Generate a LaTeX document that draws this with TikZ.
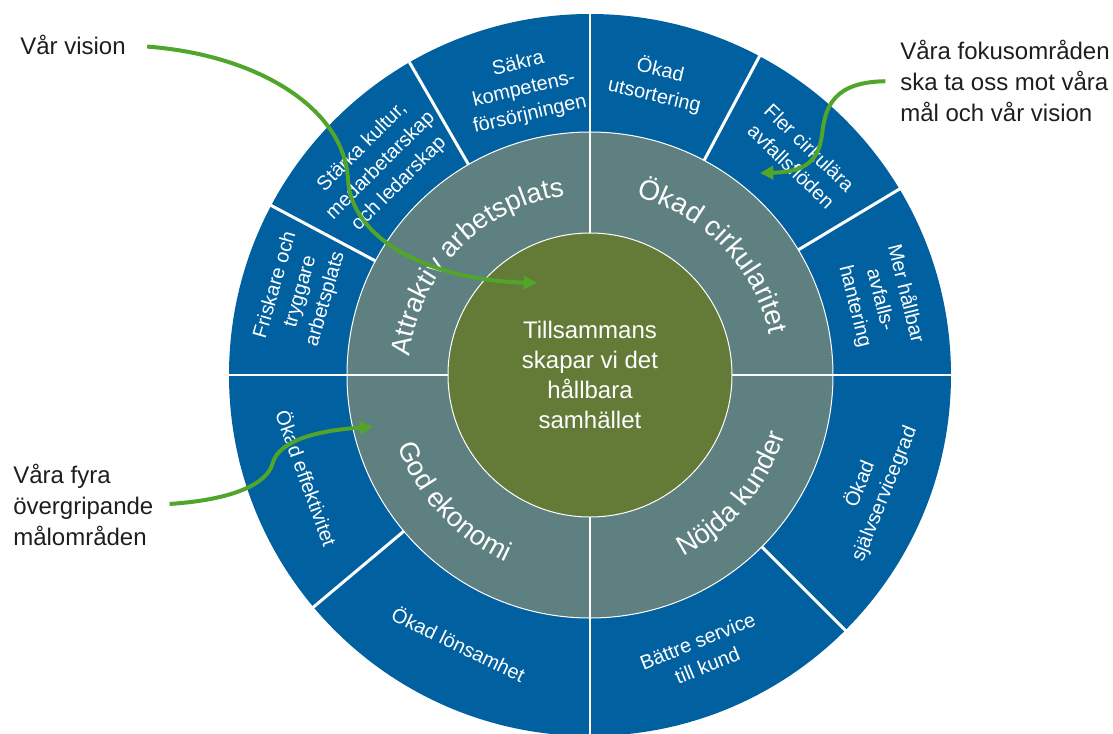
\documentclass[tikz,border=0pt]{standalone}
\usepackage{fontspec}
\setmainfont{Liberation Sans}
\usetikzlibrary{arrows.meta,decorations.text}
\definecolor{ringblue}{RGB}{0,96,160}
\definecolor{ringgray}{RGB}{94,128,128}
\definecolor{coregreen}{RGB}{100,123,56}
\definecolor{arrowgreen}{RGB}{80,165,42}
\definecolor{notetext}{RGB}{30,30,30}
\begin{document}
\begin{tikzpicture}[x=0.75pt, y=0.75pt,
    seg/.style={white, line width=2.25pt},
    quad/.style={white, line width=1.8pt},
    outerlbl/.style={white, align=center, inner sep=0pt, font=\fontsize{15}{19.5}\selectfont},
    note/.style={notetext, align=left, anchor=west, inner sep=0pt, font=\fontsize{18}{23}\selectfont},
    greenarrow/.style={arrowgreen, line width=3pt, -{Triangle[length=10pt, width=10pt]}}]
            \useasboundingbox (-590,-358) rectangle (523,375);
            \coordinate (O) at (0,0);

            \fill[ringblue] (O) circle[radius=361];
            \fill[ringgray] (O) circle[radius=243];
            \draw[white, line width=0.75pt] (O) circle[radius=243];

            \draw[seg] (120:243) -- (120:364);
            \draw[seg] (152:243) -- (152:364);
            \draw[seg] (62:243) -- (62:364);
            \draw[seg] (31:243) -- (31:364);
            \draw[seg] (220:243) -- (220:364);
            \draw[seg] (315:243) -- (315:364);
            \draw[quad] (0:142) -- (0:364);
            \draw[quad] (90:142) -- (90:364);
            \draw[quad] (180:142) -- (180:364);
            \draw[quad] (270:142) -- (270:364);

            \fill[coregreen] (O) circle[radius=142];
            \draw[white, line width=0.75pt] (O) circle[radius=142];

            \node (C) at (0,0) [white, align=center, font=\fontsize{18}{22.5}\selectfont] {Tillsammans\\skapar vi det\\hållbara\\samhället};

            \path[decorate, decoration={text along path, text align=center,
                text={|\fontsize{20.5}{21}\selectfont\color{white}|Attraktiv arbetsplats}}]
                (196:181) arc[start angle=196, end angle=76, radius=181];
            \path[decorate, decoration={text along path, text align=center,
                text={|\fontsize{21}{21}\selectfont\color{white}|Ökad cirkularitet}}]
                (104:184) arc[start angle=104, end angle=-16, radius=184];
            \path[decorate, decoration={text along path, text align=center,
                text={|\fontsize{20.5}{21}\selectfont\color{white}|God ekonomi}}]
                (163:205) arc[start angle=163, end angle=283, radius=205];
            \path[decorate, decoration={text along path, text align=center,
                text={|\fontsize{20.5}{21}\selectfont\color{white}|Nöjda kunder}}]
                (260:204) arc[start angle=260, end angle=380, radius=204];

            \node (S1) at (103:293) [outerlbl, rotate=13] {Säkra\\kompetens-\\försörjningen};
            \node (S2) at (135:296) [outerlbl, rotate=45] {Stärka kultur,\\medarbetarskap\\och ledarskap};
            \node (S3) at (164:301) [outerlbl, rotate=74] {Friskare och\\tryggare\\arbetsplats};
            \node (S4) at (77:300) [outerlbl, rotate=-13] {Ökad\\utsortering};
            \node (S5) at (46:303) [outerlbl, rotate=-44] {Fler cirkulära\\avfallsflöden};
            \node (S6) at (14.5:300) [outerlbl, rotate=-76] {Mer hållbar\\avfalls-\\hantering};
            \node (S7) at (338:304) [outerlbl, rotate=68] {Ökad\\självservicegrad};
            \node (S8) at (292:300) [outerlbl, rotate=22] {Bättre service\\till kund};
            \node (S9) at (244:299) [outerlbl, rotate=-26] {Ökad lönsamhet};
            \node (S10) at (200:301) [outerlbl, rotate=-70] {Ökad effektivitet};

            \node (V) at (-570,330) [note] {Vår vision};
            \node (F) at (310,294) [note] {Våra fokusområden\\ska ta oss mot våra\\mål och vår vision};
            \node (M) at (-577,-130) [note] {Våra fyra\\övergripande\\målområden};

            \coordinate (VT) at (-53,92);
            \coordinate (FT) at (170,202);
            \coordinate (MT) at (-217,-52);

            \draw[greenarrow, shorten <=16pt] (V.east) .. controls (-330,320) and (-245,265) .. (-242,195)
                .. controls (-238,135) and (-160,95) .. (VT);
            \draw[greenarrow, shorten <=11pt] (F.west) .. controls (245,293) and (235,270) .. (232,240)
                .. controls (228,210) and (210,203) .. (FT);
            \draw[greenarrow, shorten <=12pt] (M.east) .. controls (-360,-125) and (-322,-110) .. (-317,-87)
                .. controls (-310,-65) and (-270,-55) .. (MT);
\end{tikzpicture}
\end{document}
